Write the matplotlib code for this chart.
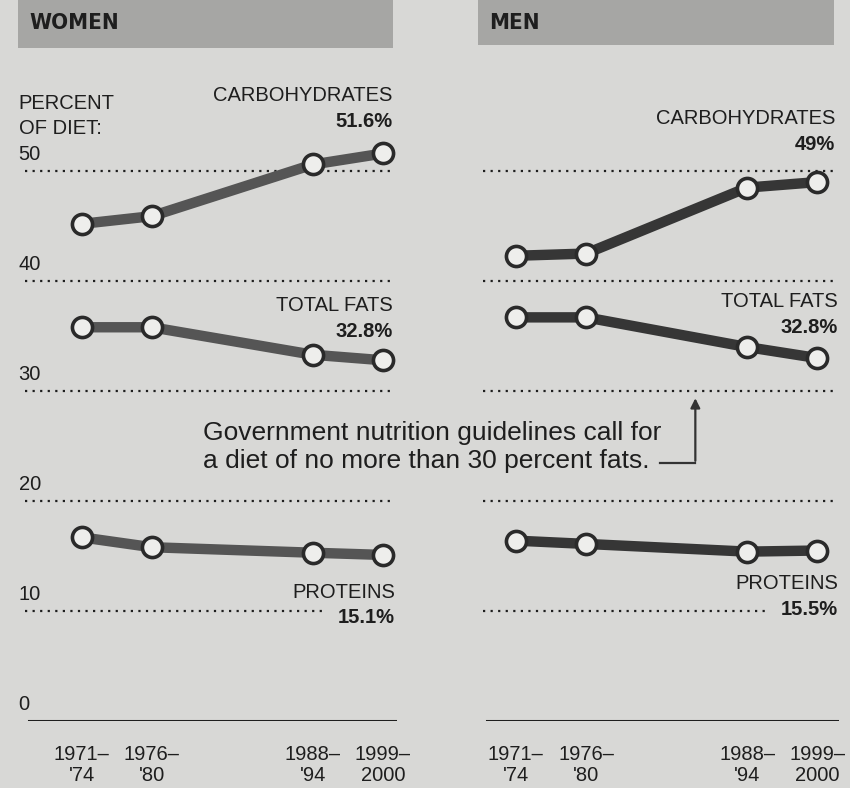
# Diet composition, women vs men, 1971-2000

import matplotlib.pyplot as plt
from matplotlib.patches import Rectangle

plt.rcParams['font.family'] = ['Liberation Sans', 'DejaVu Sans']

periods = ["1971–\n'74", "1976–\n'80", "1988–\n'94", "1999–\n2000"]
x_pos = [0, 1, 3.3, 4.3]                # uneven spacing as in the original

women_carbs = [45.2, 45.9, 50.6, 51.6]
women_fats = [35.8, 35.8, 33.3, 32.8]
women_prot = [16.7, 15.8, 15.3, 15.1]

men_carbs = [42.3, 42.5, 48.5, 49.0]
men_fats = [36.7, 36.7, 34.0, 33.0]
men_prot = [16.4, 16.1, 15.4, 15.5]

women_labels = ["51.6%", "32.8%", "15.1%"]
men_labels = ["49%", "32.8%", "15.5%"]
nutrients = ["CARBOHYDRATES", "TOTAL FATS", "PROTEINS"]
grid_vals = [10, 20, 30, 40, 50]

W, H = 850, 788
bg = '#d8d8d6'
ink = '#1e1e1e'
fs = 14.5

fig = plt.figure(figsize=(8.5, 7.88), dpi=100, facecolor=bg)

def px(x0, y0, x1, y1):
	# pixel box -> figure fraction rect
	return [x0 / W, 1 - y1 / H, (x1 - x0) / W, (y1 - y0) / H]

# header bars
for (x0, x1, y1, name) in [(18, 393, 48, 'WOMEN'), (478, 834, 45, 'MEN')]:
	fig.patches.append(Rectangle((x0 / W, 1 - y1 / H), (x1 - x0) / W, y1 / H,
		transform=fig.transFigure, facecolor='#a6a6a4', edgecolor='none'))
	fig.text((x0 + 11) / W, 1 - 23 / H, name, fontsize=16, fontweight='bold',
		family='DejaVu Sans', fontstretch='condensed', color=ink, va='center', ha='left')

ax_w = fig.add_axes(px(25, 60, 397, 721))
ax_m = fig.add_axes(px(483, 60, 839, 721))

panels = [
	(ax_w, (-0.81, 4.5), [women_carbs, women_fats, women_prot], women_labels, '#555555',
	 [(4.43, 56.9, 54.5), (4.44, 37.8, 35.4), (4.47, 11.7, 9.4)], 3.47, True),
	(ax_m, (-0.47, 4.61), [men_carbs, men_fats, men_prot], men_labels, '#363636',
	 [(4.56, 54.8, 52.4), (4.59, 38.1, 35.8), (4.60, 12.5, 10.1)], 3.62, False),
]

for ax, xl, series, labels, lc, label_pos, prot_end, show_y in panels:
	ax.set_facecolor('none')
	ax.set_xlim(*xl)
	ax.set_ylim(0, 60.1)
	for s in ax.spines.values():
		s.set_visible(False)
	ax.set_yticks([])
	ax.set_xticks(x_pos)
	ax.set_xticklabels(periods, fontsize=fs, color=ink, linespacing=1.15)
	ax.tick_params(axis='x', length=0, pad=17)

	# dotted gridlines
	x0, x1 = xl[0], xl[1] - 0.06
	for g in grid_vals:
		end = prot_end if g == 10 else x1
		ax.plot([x0, end], [g, g], color=ink, lw=1.6, ls=(0, (1, 2.4)))
	ax.axhline(0, color=ink, lw=2.2, xmin=0.01)

	for vals in series:
		ax.plot(x_pos, vals, color=lc, lw=7.5, marker='o', markersize=14.5,
			markerfacecolor='#eeeeec', markeredgecolor='#2a2a2a', markeredgewidth=2.6,
			solid_capstyle='butt', zorder=3)

	for name, lab, (lx, y1, y2) in zip(nutrients, labels, label_pos):
		ax.text(lx, y1, name, ha='right', va='center', fontsize=fs, color=ink)
		ax.text(lx, y2, lab, ha='right', va='center', fontsize=fs, color=ink,
			fontweight='bold')

	if show_y:
		for g in [0] + grid_vals:
			ax.text(-0.9, g + 1.5, str(g), ha='left', va='center', fontsize=fs, color=ink)
		ax.text(-0.9, 55.0, 'PERCENT\nOF DIET:', ha='left', va='center', fontsize=fs,
			color=ink, linespacing=1.4)

# guideline note with arrow to the 30 percent line
fig.text(203 / W, 1 - 447 / H,
	'Government nutrition guidelines call for\na diet of no more than 30 percent fats.',
	fontsize=19, color=ink, ha='left', va='center', linespacing=1.2)
ax_m.plot([2.06, 2.56], [23.5, 23.5], color='#333333', lw=1.6)
ax_m.annotate('', xy=(2.56, 29.6), xytext=(2.56, 23.4),
	arrowprops=dict(arrowstyle='-|>', color='#333333', lw=1.6, mutation_scale=14))

plt.savefig('out.png', dpi=100, facecolor=bg)
